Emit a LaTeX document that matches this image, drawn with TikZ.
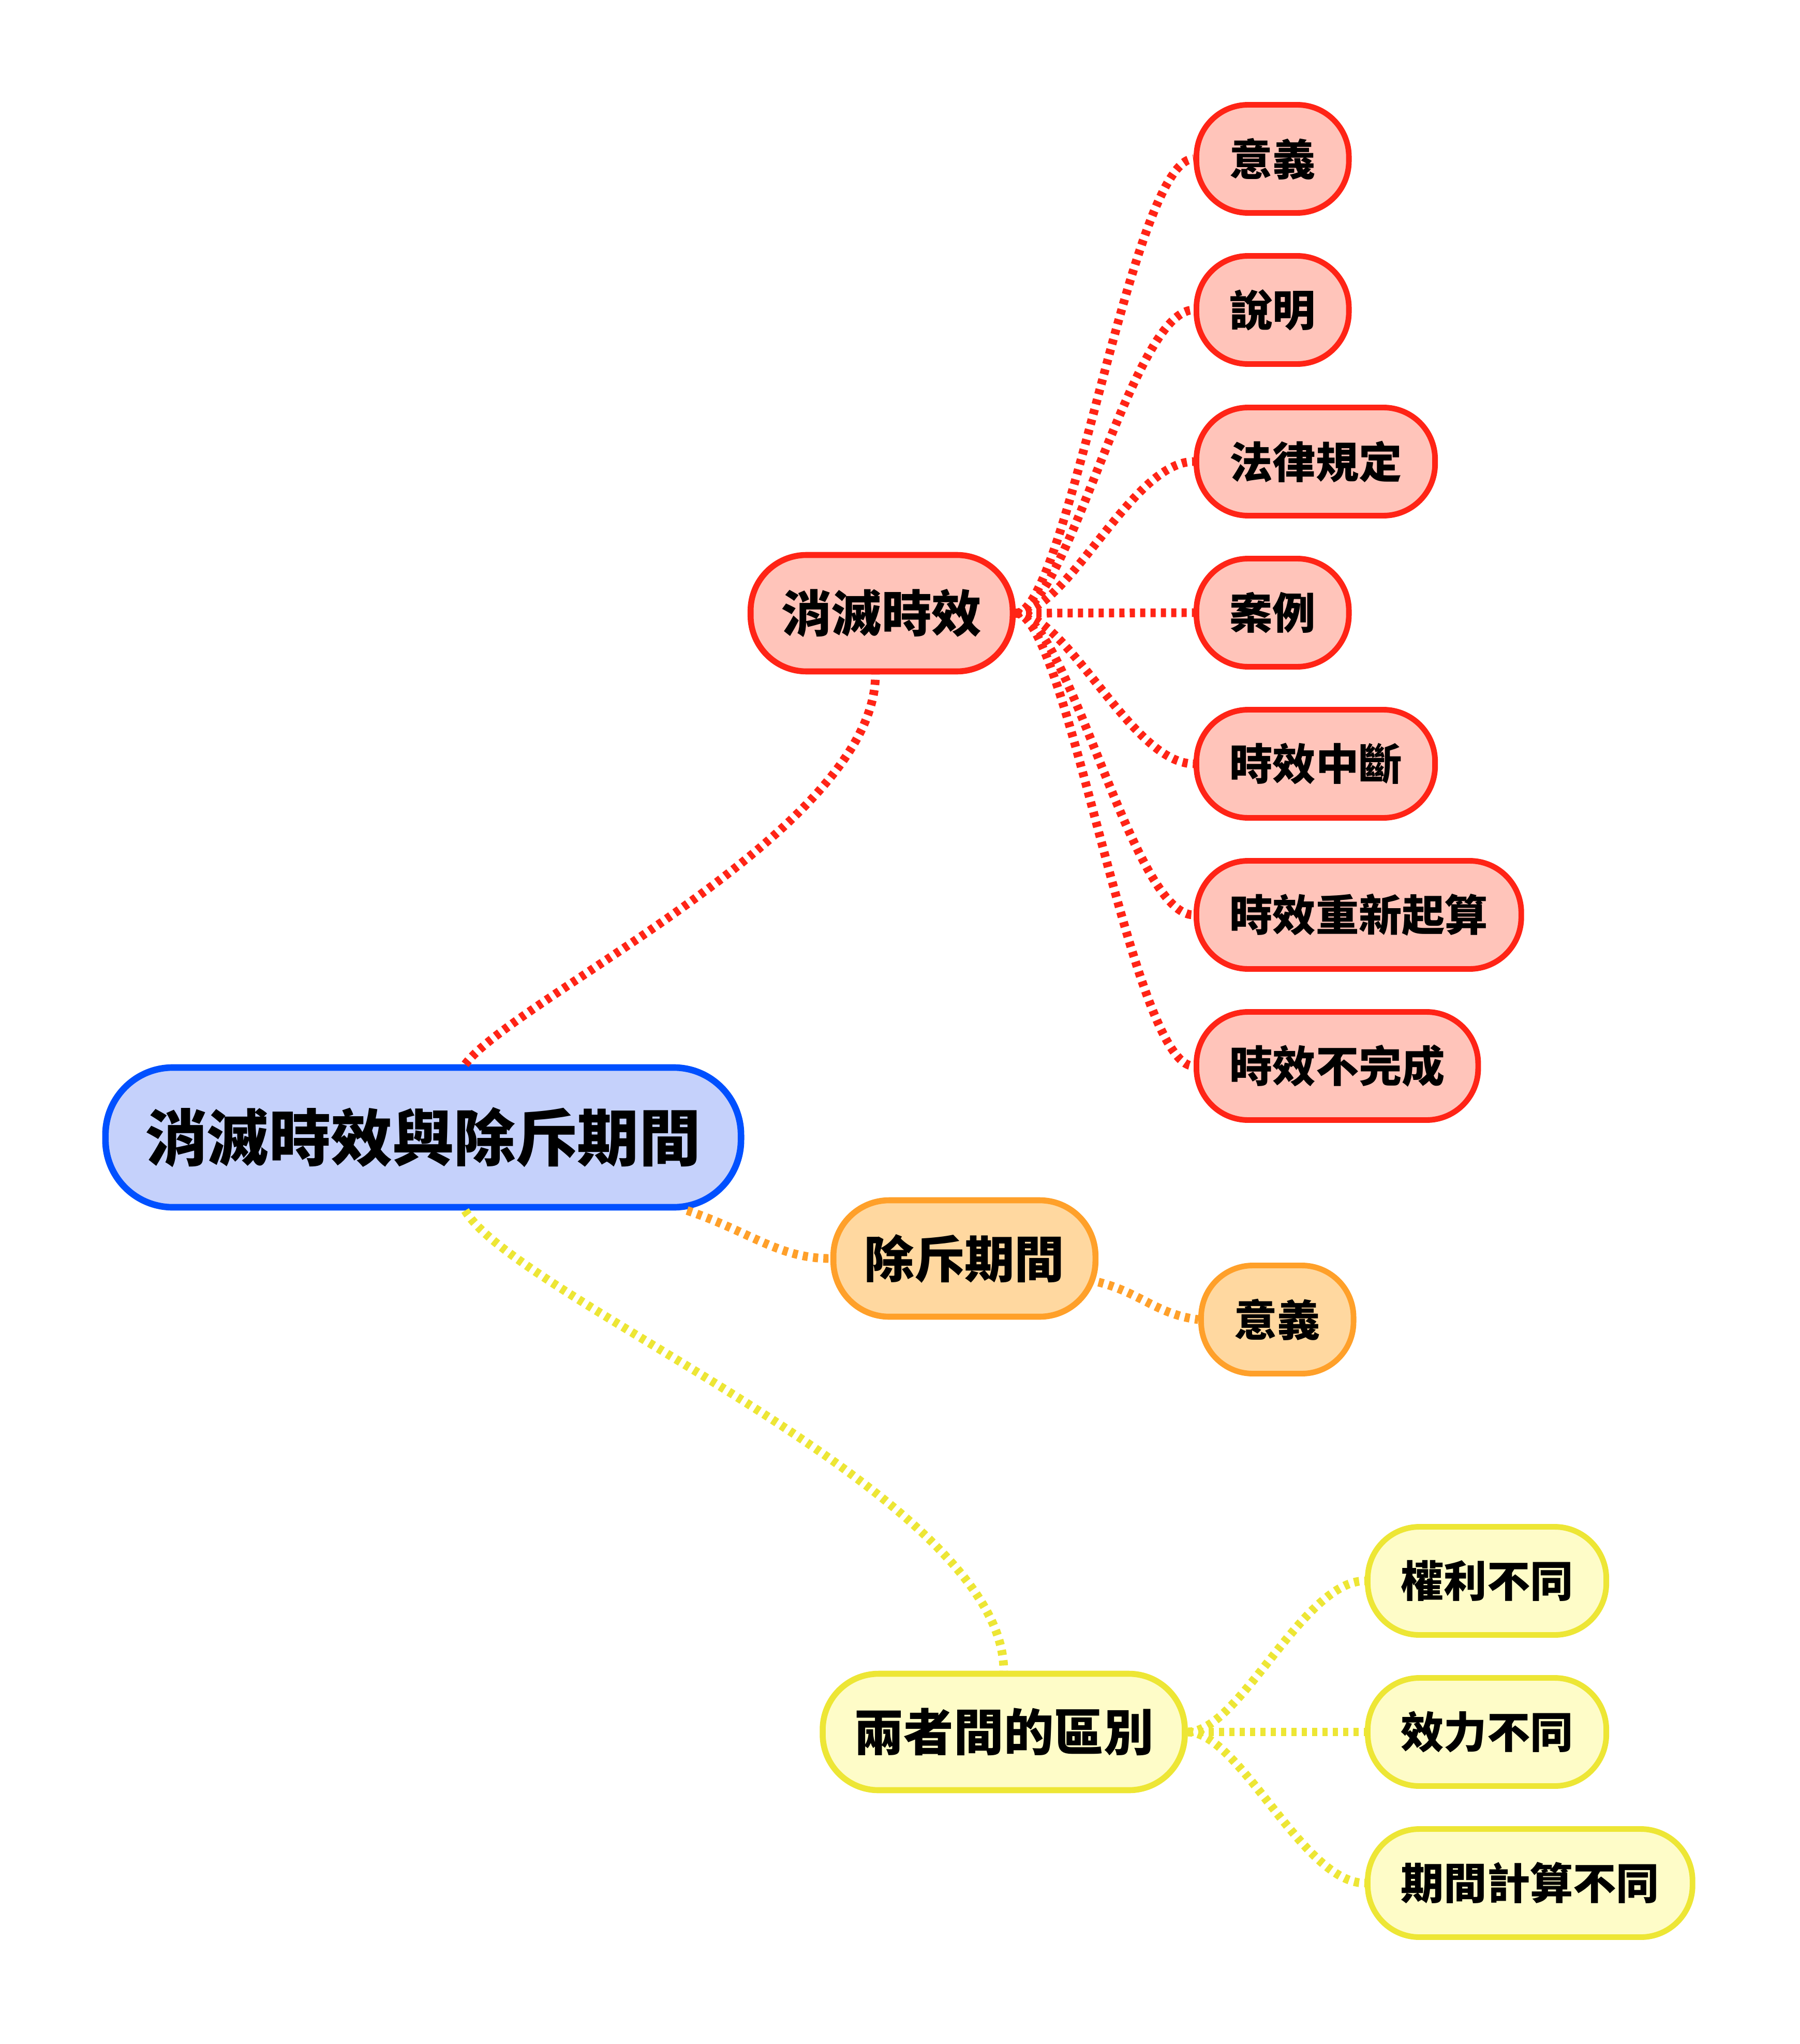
\documentclass[tikz,border=0pt]{standalone}
\usepackage{fontspec}
\setmainfont{Noto Sans CJK TC}
\usetikzlibrary{calc}
\definecolor{topicline}{HTML}{0050FF}
\definecolor{topicfill}{HTML}{C5D1FB}
\definecolor{redline}{HTML}{FF2416}
\definecolor{redfill}{HTML}{FFC4BA}
\definecolor{orangeline}{HTML}{FFA02A}
\definecolor{orangefill}{HTML}{FFD8A0}
\definecolor{yellowline}{HTML}{EDE635}
\definecolor{yellowfill}{HTML}{FEFCC8}

\begin{document}
\begin{tikzpicture}[
    topic/.style={draw=topicline,fill=topicfill,line width=3.6pt,rounded corners=1.3cm,
        minimum height=2.7cm,inner xsep=0.78cm,inner ysep=0pt,
        font=\bfseries\fontsize{33.9pt}{40pt}\selectfont},
    branch/.style={line width=3.3pt,rounded corners=1.08cm,minimum height=2.25cm,
        inner xsep=0.6cm,inner ysep=0pt,font=\bfseries\fontsize{27.5pt}{33pt}\selectfont},
    leaf/.style={line width=3.1pt,rounded corners=1.0cm,minimum height=2.09cm,
        inner xsep=0.64cm,inner ysep=0pt,anchor=west,
        font=\bfseries\fontsize{23.7pt}{28pt}\selectfont},
    redpart/.style={draw=redline,fill=redfill},
    orangepart/.style={draw=orangeline,fill=orangefill},
    yellowpart/.style={draw=yellowline,fill=yellowfill},
    link/.style={line width=4.8pt,dash pattern=on 2.85pt off 2.85pt}]
\useasboundingbox (0,0) rectangle (34.78,-39.5);
\node[topic] (root) at (8.18,-21.98) {消滅時效與除斥期間};
\node[branch,redpart] (xm) at (17.04,-11.85) {消滅時效};
\node[branch,orangepart] (cc) at (18.64,-24.32) {除斥期間};
\node[branch,yellowpart] (qb) at (19.40,-33.47) {兩者間的區別};
\node[leaf,redpart] (xm1) at (23.07,-3.07) {意義};
\node[leaf,redpart] (xm2) at (23.07,-5.99) {說明};
\node[leaf,redpart] (xm3) at (23.07,-8.92) {法律規定};
\node[leaf,redpart] (xm4) at (23.07,-11.84) {案例};
\node[leaf,redpart] (xm5) at (23.07,-14.76) {時效中斷};
\node[leaf,redpart] (xm6) at (23.07,-17.68) {時效重新起算};
\node[leaf,redpart] (xm7) at (23.07,-20.60) {時效不完成};
\node[leaf,orangepart] (cc1) at (23.16,-25.50) {意義};
\node[leaf,yellowpart] (qb1) at (26.38,-30.55) {權利不同};
\node[leaf,yellowpart] (qb2) at (26.38,-33.47) {效力不同};
\node[leaf,yellowpart] (qb3) at (26.38,-36.39) {期間計算不同};
\draw[link,redline] ([xshift=0.81cm]root.north) .. controls +(1.0,1.3) and +(0,-3.0) .. ([xshift=-0.12cm]xm.south);
\draw[link,orangeline] ([xshift=5.1cm]root.south) .. controls +(1.2,-0.4) and +(-1.0,0) .. (cc.west);
\draw[link,yellowline] ([xshift=0.81cm]root.south) .. controls +(1.0,-1.7) and +(0,3.4) .. (qb.north);
\draw[link,redline] (xm.east) .. controls +(1.0,0) and +(-1.2,0) .. (xm1.west);
\draw[link,redline] (xm.east) .. controls +(1.0,0) and +(-1.2,0) .. (xm2.west);
\draw[link,redline] (xm.east) .. controls +(1.0,0) and +(-1.2,0) .. (xm3.west);
\draw[link,redline] (xm.east) -- (xm4.west);
\draw[link,redline] (xm.east) .. controls +(1.0,0) and +(-1.2,0) .. (xm5.west);
\draw[link,redline] (xm.east) .. controls +(1.0,0) and +(-1.2,0) .. (xm6.west);
\draw[link,redline] (xm.east) .. controls +(1.0,0) and +(-1.2,0) .. (xm7.west);
\draw[link,orangeline] (cc.-10) .. controls +(0.8,-0.2) and +(-0.8,0.1) .. (cc1.west);
\draw[link,yellowline] (qb.east) .. controls +(1.0,0) and +(-1.2,0) .. (qb1.west);
\draw[link,yellowline] (qb.east) -- (qb2.west);
\draw[link,yellowline] (qb.east) .. controls +(1.0,0) and +(-1.2,0) .. (qb3.west);
\end{tikzpicture}
\end{document}
